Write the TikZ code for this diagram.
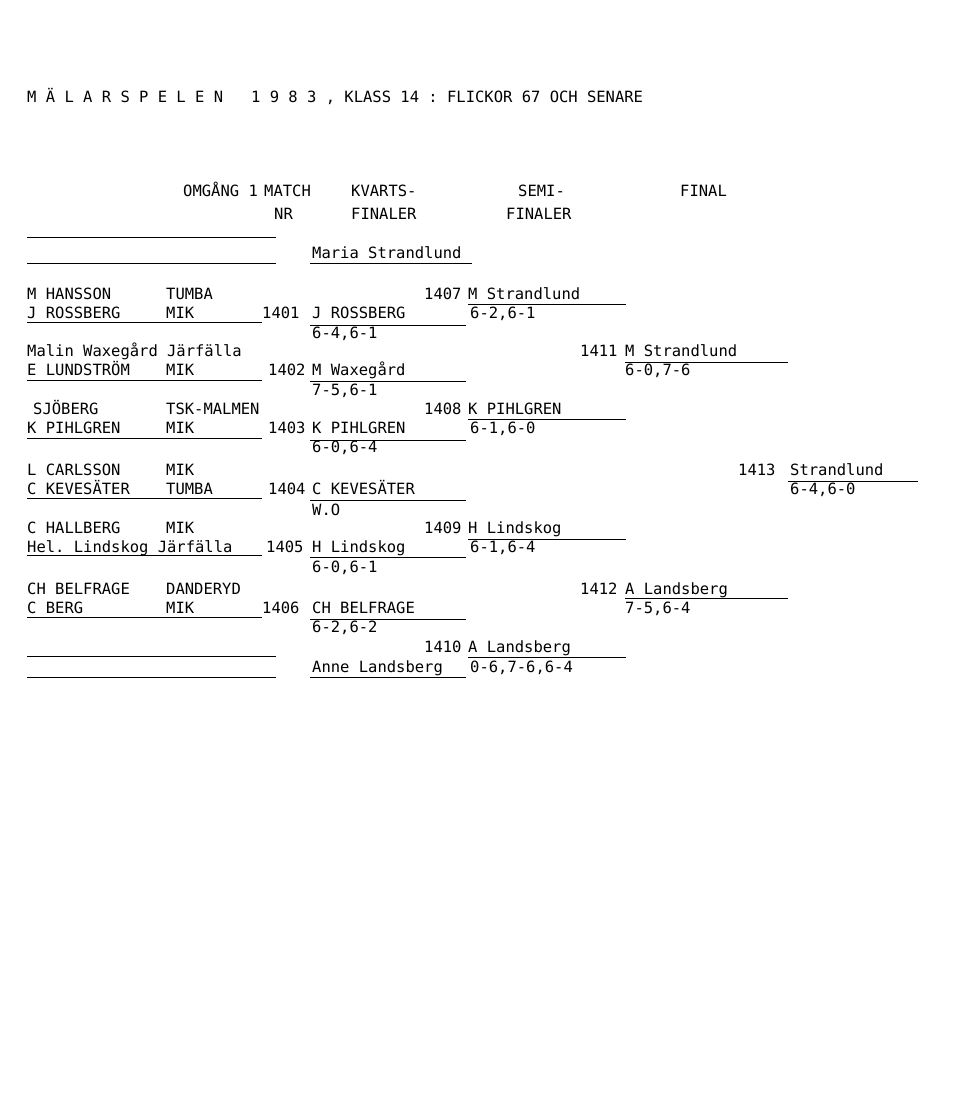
\documentclass[tikz,border=0pt]{standalone}
\usepackage{fontspec}
\setmonofont{DejaVu Sans Mono}
\tikzset{
  txt/.style={anchor=base west,inner sep=0pt,font=\ttfamily\fontsize{15.5}{16}\selectfont},
  rule/.style={line width=0.8pt}
}
\begin{document}
\begin{tikzpicture}[x=1pt,y=-1pt]
  \useasboundingbox (0,0) rectangle (960,1105);

  % title and heading
  \node[txt] (title) at (27,103) {M Ä L A R S P E L E N\ \ \ 1 9 8 3 , KLASS 14 : FLICKOR 67 OCH SENARE};
  \node[txt] (h1) at (183,196) {OMGÅNG 1};
  \node[txt] (h2) at (264,196) {MATCH};
  \node[txt] (h3) at (351,196) {KVARTS-};
  \node[txt] (h4) at (518,196) {SEMI-};
  \node[txt] (h5) at (680,196) {FINAL};
  \node[txt] (h6) at (274,219) {NR};
  \node[txt] (h7) at (351,219) {FINALER};
  \node[txt] (h8) at (506,219) {FINALER};

  % first round
  \node[txt] (p1) at (27,299) {M HANSSON};   \node[txt] (c1) at (166,299) {TUMBA};
  \node[txt] (p2) at (27,318) {J ROSSBERG};  \node[txt] (c2) at (166,318) {MIK};
  \node[txt] (p3) at (27,356) {Malin Waxegård Järfälla};
  \node[txt] (p4) at (27,375) {E LUNDSTRÖM}; \node[txt] (c4) at (166,375) {MIK};
  \node[txt] (p5) at (33,414) {SJÖBERG};     \node[txt] (c5) at (166,414) {TSK-MALMEN};
  \node[txt] (p6) at (27,433) {K PIHLGREN};  \node[txt] (c6) at (166,433) {MIK};
  \node[txt] (p7) at (27,475) {L CARLSSON};  \node[txt] (c7) at (166,475) {MIK};
  \node[txt] (p8) at (27,494) {C KEVESÄTER}; \node[txt] (c8) at (166,494) {TUMBA};
  \node[txt] (p9) at (27,533) {C HALLBERG};  \node[txt] (c9) at (166,533) {MIK};
  \node[txt] (p10) at (27,552) {Hel. Lindskog Järfälla};
  \node[txt] (p11) at (27,594) {CH BELFRAGE}; \node[txt] (c11) at (166,594) {DANDERYD};
  \node[txt] (p12) at (27,613) {C BERG};     \node[txt] (c12) at (166,613) {MIK};

  % match numbers
  \node[txt] (m1401) at (262,318) {1401};
  \node[txt] (m1402) at (268,375) {1402};
  \node[txt] (m1403) at (268,433) {1403};
  \node[txt] (m1404) at (268,494) {1404};
  \node[txt] (m1405) at (266,552) {1405};
  \node[txt] (m1406) at (262,613) {1406};
  \node[txt] (m1407) at (424,299) {1407};
  \node[txt] (m1408) at (424,414) {1408};
  \node[txt] (m1409) at (424,533) {1409};
  \node[txt] (m1410) at (424,652) {1410};
  \node[txt] (m1411) at (580,356) {1411};
  \node[txt] (m1412) at (580,594) {1412};
  \node[txt] (m1413) at (738,475) {1413};

  % quarter finals
  \node[txt] (q0) at (312,258) {Maria Strandlund};
  \node[txt] (q1) at (312,318) {J ROSSBERG};  \node[txt] (r1) at (312,338) {6-4,6-1};
  \node[txt] (q2) at (312,375) {M Waxegård};  \node[txt] (r2) at (312,395) {7-5,6-1};
  \node[txt] (q3) at (312,433) {K PIHLGREN};  \node[txt] (r3) at (312,452) {6-0,6-4};
  \node[txt] (q4) at (312,494) {C KEVESÄTER}; \node[txt] (r4) at (312,515) {W.O};
  \node[txt] (q5) at (312,552) {H Lindskog};  \node[txt] (r5) at (312,572) {6-0,6-1};
  \node[txt] (q6) at (312,613) {CH BELFRAGE}; \node[txt] (r6) at (312,632) {6-2,6-2};
  \node[txt] (q7) at (312,672) {Anne Landsberg};

  % semi finals
  \node[txt] (s1) at (468,299) {M Strandlund}; \node[txt] (t1) at (470,318) {6-2,6-1};
  \node[txt] (s2) at (468,414) {K PIHLGREN};   \node[txt] (t2) at (470,433) {6-1,6-0};
  \node[txt] (s3) at (468,533) {H Lindskog};   \node[txt] (t3) at (470,552) {6-1,6-4};
  \node[txt] (s4) at (468,652) {A Landsberg};  \node[txt] (t4) at (470,672) {0-6,7-6,6-4};

  % finals
  \node[txt] (f1) at (625,356) {M Strandlund}; \node[txt] (g1) at (625,375) {6-0,7-6};
  \node[txt] (f2) at (625,594) {A Landsberg};  \node[txt] (g2) at (625,613) {7-5,6-4};
  \node[txt] (w) at (790,475) {Strandlund};    \node[txt] (v) at (790,494) {6-4,6-0};

  % rules
  \draw[rule] (27,237) -- (276,237);
  \draw[rule] (27,263) -- (276,263);
  \draw[rule] (310,263) -- (472,263);
  \foreach \y in {322,380,438,498,555,617}
    \draw[rule] (27,\y) -- (262,\y);
  \foreach \y in {325,381,440,500,557,619,677}
    \draw[rule] (310,\y) -- (466,\y);
  \foreach \y in {304,419,539,657}
    \draw[rule] (468,\y) -- (626,\y);
  \draw[rule] (625,362) -- (788,362);
  \draw[rule] (625,598) -- (788,598);
  \draw[rule] (788,481) -- (918,481);
  \draw[rule] (27,656) -- (276,656);
  \draw[rule] (27,677) -- (276,677);
\end{tikzpicture}
\end{document}
